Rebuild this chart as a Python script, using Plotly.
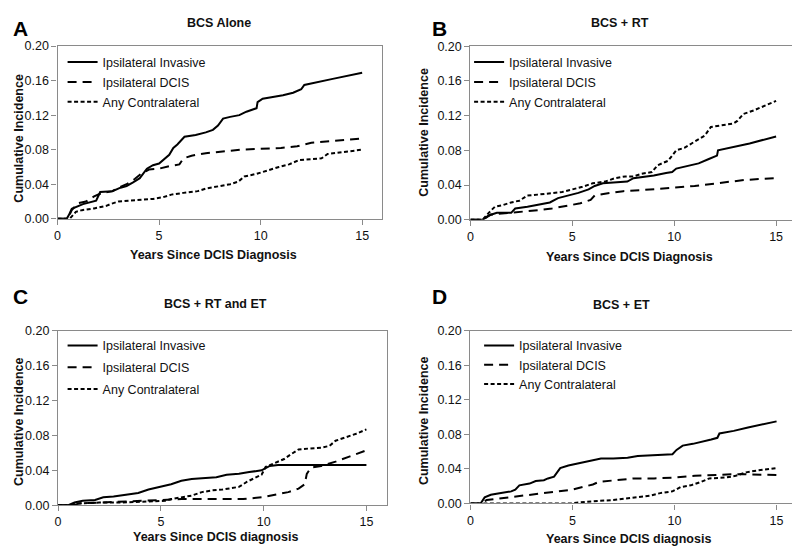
import plotly.graph_objects as go

W, H = 800, 546
# measured mapping between figure pixels and the photographed window:
# window = O + S * figure   ->  figure = (window - O) / S
OX, SX = 9.5, 0.995
OY, SY = 14.5, 0.973

# ---------------- DATA ----------------
series_names = ["Ipsilateral Invasive", "Ipsilateral DCIS", "Any Contralateral"]
panel_titles = ["BCS Alone", "BCS + RT", "BCS + RT and ET", "BCS + ET"]
panel_letters = ["A", "B", "C", "D"]
x_titles = ["Years Since DCIS Diagnosis", "Years Since DCIS Diagnosis",
            "Years Since DCIS diagnosis", "Years Since DCIS diagnosis"]
y_title = "Cumulative Incidence"
x_ticks = [0, 5, 10, 15]
y_ticks = [0.00, 0.04, 0.08, 0.12, 0.16, 0.20]

# Panel A: BCS Alone
inv_A_x = [0, 0.45, 0.55, 0.7, 1.25, 1.9, 2.1, 2.7, 3.1, 3.4, 3.7, 4.05, 4.4, 4.7, 5.0, 5.3, 5.5, 5.7, 5.9, 6.25,
           6.8, 7.3, 7.65, 7.9, 8.15, 8.5, 8.95, 9.3, 9.8, 9.85, 10.1, 10.6, 11.1, 11.6, 12.0, 12.15, 12.6, 13.55, 15]
inv_A_y = [0, 0, 0.004, 0.0115, 0.017, 0.021, 0.031, 0.032, 0.036, 0.038, 0.042, 0.047, 0.058, 0.062, 0.064, 0.07,
           0.074, 0.082, 0.086, 0.095, 0.097, 0.1, 0.103, 0.108, 0.116, 0.118, 0.12, 0.124, 0.128, 0.135, 0.139,
           0.141, 0.143, 0.146, 0.15, 0.155, 0.157, 0.162, 0.169]
dcis_A_x = [0, 0.5, 0.7, 1.0, 1.4, 1.8, 2.2, 2.7, 3.0, 3.4, 3.8, 4.1, 4.5, 5.0, 5.5, 6.0, 6.2, 6.6, 7.3, 8.0, 9.0,
            10.0, 11.0, 11.8, 12.5, 13.5, 15]
dcis_A_y = [0, 0, 0.01, 0.018, 0.02, 0.026, 0.03, 0.032, 0.036, 0.04, 0.046, 0.052, 0.057, 0.058, 0.061, 0.063,
            0.07, 0.073, 0.076, 0.078, 0.08, 0.081, 0.082, 0.084, 0.088, 0.09, 0.093]
con_A_x = [0, 0.6, 0.9, 1.2, 1.8, 2.4, 2.6, 3.0, 3.5, 4.2, 4.7, 5.2, 5.6, 6.2, 6.9, 7.3, 7.8, 8.5, 8.9, 9.2, 9.8,
           10.3, 10.9, 11.4, 11.9, 12.5, 13.0, 13.3, 14.0, 15]
con_A_y = [0, 0, 0.008, 0.01, 0.012, 0.015, 0.017, 0.02, 0.021, 0.022, 0.023, 0.025, 0.028, 0.03, 0.032, 0.035,
           0.037, 0.04, 0.043, 0.049, 0.052, 0.056, 0.06, 0.063, 0.068, 0.069, 0.07, 0.075, 0.077, 0.08]

# Panel B: BCS + RT
inv_B_x = [0, 0.6, 0.9, 1.3, 2.0, 2.2, 2.8, 3.3, 3.9, 4.3, 4.8, 5.3, 5.8, 6.1, 6.5, 7.2, 7.7, 8.0, 8.6, 9.0, 9.6,
           9.9, 10.1, 10.6, 11.2, 11.7, 12.1, 12.15, 12.9, 13.7, 15]
inv_B_y = [0, 0, 0.005, 0.008, 0.008, 0.013, 0.015, 0.017, 0.02, 0.025, 0.028, 0.031, 0.035, 0.039, 0.042, 0.043,
           0.044, 0.048, 0.05, 0.051, 0.054, 0.055, 0.059, 0.062, 0.065, 0.07, 0.074, 0.08, 0.084, 0.088, 0.096]
dcis_B_x = [0, 0.6, 1.0, 1.5, 2.5, 3.3, 4.0, 4.8, 5.4, 5.9, 6.1, 6.6, 7.5, 8.3, 9.0, 9.5, 10.0, 11.0, 11.7, 12.5,
            13.5, 15]
dcis_B_y = [0, 0, 0.006, 0.007, 0.009, 0.011, 0.013, 0.016, 0.019, 0.023, 0.028, 0.03, 0.033, 0.034, 0.035, 0.036,
            0.037, 0.039, 0.041, 0.044, 0.046, 0.048]
con_B_x = [0, 0.6, 0.9, 1.2, 1.6, 2.0, 2.4, 2.8, 3.3, 4.0, 4.5, 5.0, 5.5, 6.0, 6.6, 7.1, 7.6, 8.0, 8.4, 8.9, 9.2,
           9.7, 10.1, 10.5, 11.0, 11.5, 11.8, 12.3, 12.9, 13.1, 13.4, 13.9, 14.4, 15]
con_B_y = [0, 0, 0.008, 0.015, 0.017, 0.02, 0.022, 0.028, 0.029, 0.031, 0.032, 0.035, 0.038, 0.042, 0.044, 0.048,
           0.05, 0.05, 0.053, 0.055, 0.063, 0.068, 0.08, 0.083, 0.09, 0.097, 0.107, 0.109, 0.111, 0.114, 0.122,
           0.126, 0.131, 0.137]

# Panel C: BCS + RT and ET
inv_C_x = [0, 0.5, 0.8, 1.2, 1.8, 2.2, 2.7, 3.3, 3.9, 4.4, 5.0, 5.5, 6.0, 6.5, 7.0, 7.7, 8.2, 8.8, 9.3, 9.9, 10.3,
           10.7, 15]
inv_C_y = [0, 0, 0.003, 0.005, 0.006, 0.009, 0.01, 0.012, 0.014, 0.018, 0.021, 0.024, 0.028, 0.03, 0.031, 0.032,
           0.035, 0.036, 0.038, 0.04, 0.045, 0.046, 0.046]
dcis_C_x = [0, 0.8, 1.0, 2.0, 3.5, 4.0, 5.0, 6.0, 7.0, 9.0, 9.9, 10.5, 11.2, 11.7, 12.0, 12.1, 12.3, 12.8, 13.5,
            14.2, 15]
dcis_C_y = [0, 0, 0.002, 0.003, 0.004, 0.005, 0.006, 0.007, 0.007, 0.007, 0.009, 0.012, 0.015, 0.019, 0.024, 0.036,
            0.043, 0.045, 0.05, 0.056, 0.063]
con_C_x = [0, 0.5, 1.0, 2.0, 3.0, 4.0, 4.8, 5.2, 5.5, 6.0, 6.5, 7.0, 7.5, 8.0, 8.8, 9.2, 9.6, 9.9, 10.1, 10.5,
           11.0, 11.3, 11.7, 12.2, 12.8, 13.2, 13.5, 14.0, 14.5, 15]
con_C_y = [0, 0, 0.002, 0.003, 0.003, 0.004, 0.004, 0.005, 0.007, 0.009, 0.011, 0.015, 0.017, 0.018, 0.021, 0.027,
           0.032, 0.035, 0.044, 0.048, 0.053, 0.058, 0.064, 0.065, 0.066, 0.068, 0.074, 0.078, 0.082, 0.087]

# Panel D: BCS + ET
inv_D_x = [0, 0.5, 0.7, 1.0, 1.5, 2.0, 2.2, 2.4, 2.9, 3.2, 3.6, 3.8, 4.1, 4.25, 4.4, 4.8, 5.2, 5.6, 6.0, 6.4, 7.0,
           7.7, 8.2, 9.0, 9.9, 10.1, 10.4, 10.9, 11.3, 11.8, 12.1, 12.2, 12.9, 13.6, 15]
inv_D_y = [0, 0, 0.007, 0.01, 0.012, 0.014, 0.016, 0.021, 0.023, 0.026, 0.027, 0.029, 0.031, 0.036, 0.041, 0.044,
           0.046, 0.048, 0.05, 0.052, 0.052, 0.053, 0.055, 0.056, 0.057, 0.062, 0.067, 0.069, 0.071, 0.074, 0.076,
           0.081, 0.084, 0.088, 0.095]
dcis_D_x = [0, 0.5, 0.8, 1.5, 2.0, 2.7, 3.5, 4.5, 5.0, 5.5, 6.0, 6.3, 7.0, 8.0, 9.0, 10.0, 11.0, 12.0, 13.0, 15]
dcis_D_y = [0, 0, 0.004, 0.006, 0.008, 0.01, 0.012, 0.015, 0.016, 0.019, 0.022, 0.025, 0.027, 0.029, 0.029, 0.03,
            0.032, 0.033, 0.034, 0.033]
con_D_x = [0, 5.0, 5.2, 5.6, 6.3, 7.0, 7.7, 8.2, 8.8, 9.3, 9.9, 10.3, 10.8, 11.3, 11.7, 12.5, 13.0, 13.5, 14.0, 15]
con_D_y = [0, 0, 0.001, 0.002, 0.003, 0.004, 0.006, 0.007, 0.009, 0.012, 0.014, 0.019, 0.021, 0.025, 0.029, 0.03,
           0.032, 0.036, 0.038, 0.041]

panels_data = [
    [(inv_A_x, inv_A_y), (dcis_A_x, dcis_A_y), (con_A_x, con_A_y)],
    [(inv_B_x, inv_B_y), (dcis_B_x, dcis_B_y), (con_B_x, con_B_y)],
    [(inv_C_x, inv_C_y), (dcis_C_x, dcis_C_y), (con_C_x, con_C_y)],
    [(inv_D_x, inv_D_y), (dcis_D_x, dcis_D_y), (con_D_x, con_D_y)],
]

# ---------------- LAYOUT (target window pixel positions) ----------------
boxes = [(56, 380.5, 45.5, 218), (468.3, 794, 45.7, 219),
         (56.5, 385, 330, 504), (468.3, 794.5, 329.7, 502.3)]
letter_x = [10, 437.5, 10, 437.5]          # A/C left-anchored, B/D centred
letter_y = [None, None, 296, 296]          # None -> top of the figure
title_pos = [(217, 19), (618, 19), (214, 303), (619, 304)]
xtitle_pos = [(212, 254), (627, 256), (214, 536), (626, 538)]
ytitle_pos = [(15, 137), (422, 132), (12, 420), (422, 420)]
legend_line = [(66, 60), (472, 60), (66, 343), (482, 343)]   # first legend line start / row centre
legend_gap = [0.6, 0.6, 2.5, 0.0]

dashes = ["solid", "9px,6px", "4px,2.5px"]
FONT = "Liberation Sans, Arial, sans-serif"
AXC = "#8a8a8a"


def fxp(x):  # window px -> figure px
    return (x - OX) / SX


def fyp(y):
    return (y - OY) / SY


def px(x):
    return min(1.0, max(0.0, fxp(x) / W))


def py(y):
    return min(1.0, max(0.0, 1 - fyp(y) / H))


fig = go.Figure()
annotations = []
layout = {}
for i in range(4):
    n = "" if i == 0 else str(i + 1)
    xa, ya = "x" + n, "y" + n
    leg = "legend" if i == 0 else "legend" + str(i + 1)
    for j, (xs, ys) in enumerate(panels_data[i]):
        fig.add_trace(go.Scatter(
            x=xs, y=ys, mode="lines", name=series_names[j],
            line=dict(color="black", width=2, dash=dashes[j]),
            xaxis=xa, yaxis=ya, legend=leg, showlegend=True,
            legendgroup="%s%d" % (panel_letters[i], j),
        ))
    l, r, t, b = boxes[i]
    layout["xaxis" + n] = dict(
        domain=[px(l), px(r)], anchor=ya, range=[0, 16], tickvals=x_ticks,
        showline=True, linecolor=AXC, linewidth=1.3, mirror=True,
        ticks="outside", ticklen=5, tickcolor=AXC, tickwidth=1,
        showgrid=False, zeroline=False,
        tickfont=dict(family=FONT, size=12.5, color="#111"),
    )
    layout["yaxis" + n] = dict(
        domain=[py(b), py(t)], anchor=xa, range=[0, 0.2], tickvals=y_ticks,
        tickformat=".2f",
        showline=True, linecolor=AXC, linewidth=1.3, mirror=True,
        ticks="outside", ticklen=5, tickcolor=AXC, tickwidth=1,
        showgrid=False, zeroline=False,
        tickfont=dict(family=FONT, size=12.5, color="#111"),
    )
    lx, ly = legend_line[i]
    layout[leg] = dict(
        x=(fxp(lx) - 5) / W, y=1 - (fyp(ly) - 13.5) / H, xanchor="left", yanchor="top",
        bgcolor="rgba(0,0,0,0)", borderwidth=0,
        font=dict(family=FONT, size=12.5, color="#111"),
        traceorder="grouped", tracegroupgap=legend_gap[i],
    )
    # panel letter
    if i in (0, 2):
        lxp, xanc = 0.0, "left"
    else:
        lxp, xanc = px(letter_x[i]), "center"
    if letter_y[i] is None:
        lyp, yanc = 1.0, "top"
    else:
        lyp, yanc = py(letter_y[i]), "middle"
    annotations.append(dict(text="<b>%s</b>" % panel_letters[i], x=lxp, y=lyp,
                            xref="paper", yref="paper", showarrow=False, xanchor=xanc, yanchor=yanc,
                            font=dict(family=FONT, size=21, color="black")))
    # panel title (keep fully inside the figure)
    ty = min(py(title_pos[i][1]), 1 - 8 / H)
    annotations.append(dict(text="<b>%s</b>" % panel_titles[i], x=px(title_pos[i][0]), y=ty,
                            xref="paper", yref="paper", showarrow=False, xanchor="center", yanchor="middle",
                            font=dict(family=FONT, size=12.5, color="#111")))
    annotations.append(dict(text="<b>%s</b>" % x_titles[i], x=px(xtitle_pos[i][0]), y=py(xtitle_pos[i][1]),
                            xref="paper", yref="paper", showarrow=False, xanchor="center", yanchor="middle",
                            font=dict(family=FONT, size=12.5, color="#111")))
    yx = max(px(ytitle_pos[i][0]), 8 / W)
    annotations.append(dict(text="<b>%s</b>" % y_title, x=yx, y=py(ytitle_pos[i][1]),
                            xref="paper", yref="paper", showarrow=False, xanchor="center", yanchor="middle",
                            textangle=-90, font=dict(family=FONT, size=12.5, color="#111")))

fig.update_layout(
    width=W, height=H, margin=dict(l=0, r=0, t=0, b=0),
    paper_bgcolor="white", plot_bgcolor="white",
    annotations=annotations, **layout,
)

fig.write_html("out.html")
